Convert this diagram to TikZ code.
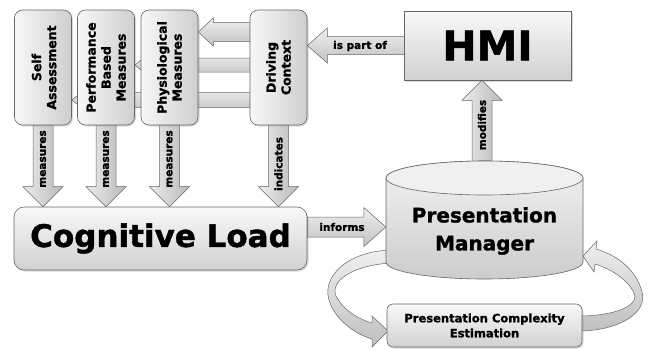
\documentclass[tikz,border=0pt]{standalone}
\usepackage{fontspec}
\setmainfont{DejaVu Sans}[BoldFeatures={FakeBold=1.3}]
\usetikzlibrary{calc,shadows}
\pgfdeclarelayer{bg}
\pgfsetlayers{bg,main}
\tikzset{
  shad/.style={drop shadow={shadow xshift=1.5pt,shadow yshift=-1.5pt,opacity=0.3}},
  vbox/.style={shad, draw=black!60, line width=0.6pt, rounded corners=8pt, left color=gray!6, right color=gray!38, minimum width=57pt, minimum height=115pt, inner sep=0pt},
  vlab/.style={rotate=90, align=center, font=\bfseries\fontsize{12.5}{15}\selectfont, inner sep=0pt},
  hbox/.style={shad, draw=black!60, line width=0.6pt, top color=gray!5, bottom color=gray!36, inner sep=0pt},
  alab/.style={font=\bfseries\fontsize{10.5}{12}\selectfont, inner sep=0pt},
  harr/.style={draw=black!60, line width=0.5pt, top color=gray!12, bottom color=gray!48},
  varr/.style={draw=black!60, line width=0.5pt, left color=gray!15, right color=gray!55},
  carr/.style={draw=black!60, line width=0.5pt, top color=gray!12, bottom color=gray!50},
}
% horizontal block arrow: start, tip, shaft half width, head half width, signed head length
\newcommand\harrowblk[6][]{\draw[harr,#1] ($(#2)+(0,-#4)$) -- ($(#3)+(#6,-#4)$) -- ($(#3)+(#6,-#5)$) -- (#3) -- ($(#3)+(#6,#5)$) -- ($(#3)+(#6,#4)$) -- ($(#2)+(0,#4)$) -- cycle;}
% vertical block arrow
\newcommand\varrowblk[6][]{\draw[varr,#1] ($(#2)+(-#4,0)$) -- ($(#3)+(-#4,#6)$) -- ($(#3)+(-#5,#6)$) -- (#3) -- ($(#3)+(#5,#6)$) -- ($(#3)+(#4,#6)$) -- ($(#2)+(#4,0)$) -- cycle;}
\begin{document}
\begin{tikzpicture}[x=1pt,y=-1pt]
\useasboundingbox (0,0) rectangle (650,349);

% top boxes
\node[vbox] (sa) at (43,67.5) {};
\node[vlab] (sat) at ($(sa)+(1,0)$) {Self\\Assessment};
\node[vbox] (pb) at (106,67.5) {};
\node[vlab] (pbt) at (pb) {Performance\\Based\\Measures};
\node[vbox] (ph) at (169.5,67.5) {};
\node[vlab] (pht) at (ph) {Physiological\\Measures};
\node[vbox] (dc) at (278.5,67.5) {};
\node[vlab] (dct) at (dc) {Driving\\Context};

% HMI
\node[hbox, minimum width=167pt, minimum height=69pt, font=\bfseries\fontsize{41}{41}\selectfont] (hmi) at (487.5,45.5) {HMI};

% Cognitive Load
\node[hbox, rounded corners=10pt, minimum width=293pt, minimum height=63pt, font=\bfseries\fontsize{31}{31}\selectfont] (cl) at (160.5,238.5) {Cognitive Load};

% Presentation Manager cylinder
\node[inner sep=0pt, minimum width=197pt, minimum height=118pt] (pm) at (484.5,220.5) {};
\draw[draw=black!60, line width=0.6pt, top color=gray!10, bottom color=gray!40]
  (386,178) -- (386,262) arc[start angle=180, end angle=0, x radius=98.5, y radius=17]
  -- (583,178) arc[start angle=0, end angle=-180, x radius=98.5, y radius=17] -- cycle;
\draw[draw=black!60, line width=0.6pt, fill=gray!12] (484.5,178) ellipse[x radius=98.5, y radius=17];
\node[align=center, inner sep=0pt, font=\bfseries\fontsize{20}{28}\selectfont] (pmt) at (484.5,231) {Presentation\\Manager};

% Presentation Complexity Estimation
\node[hbox, rounded corners=6pt, minimum width=195pt, minimum height=43pt, align=center, font=\bfseries\fontsize{11.5}{15}\selectfont] (pce) at (484.5,325.5) {Presentation Complexity\\Estimation};

\coordinate (mx) at (482,190);

\begin{pgfonlayer}{bg}
  % from Driving Context to measures
  \harrowblk{dc |- 0,100}{sa.east |- 0,100}{7.5}{12}{15}
  \harrowblk{dc |- 0,65}{pb.east |- 0,65}{7}{12}{15}
  \harrowblk{dc |- 0,32}{ph.east |- 0,32}{9.5}{14}{15}
  % is part of
  \harrowblk{hmi}{dc.east |- hmi}{9}{17.5}{20}
  % informs
  \harrowblk{cl.east |- 0,227}{pm.west |- 0,227}{10}{19.5}{-22}
  % down arrows
  \varrowblk{sa}{sa |- cl.north}{10}{20}{-20}
  \varrowblk{pb}{pb |- cl.north}{10}{20}{-20}
  \varrowblk{ph}{ph |- cl.north}{10}{20}{-20}
  \varrowblk{dc}{dc |- cl.north}{10}{20}{-20}
  % modifies
  \varrowblk{mx}{mx |- hmi.south}{10}{20}{20}
  % loop arrows
  \draw[carr] (390,250) .. controls (345,252) and (322,278) .. (329,300)
     .. controls (335,320) and (355,334) .. (372,339) -- (372,347) -- (388,331) -- (372,316) -- (372,323)
     .. controls (355,318) and (342,308) .. (336,296)
     .. controls (330,282) and (350,266) .. (390,263) -- cycle;
  \draw[carr] (578,331) .. controls (620,331) and (648,312) .. (642,292)
     .. controls (637,272) and (620,256) .. (596,249) -- (597,241) -- (583,256) -- (594,272) -- (595,264)
     .. controls (615,270) and (632,284) .. (635,296)
     .. controls (636,306) and (615,316) .. (578,316) -- cycle;
\end{pgfonlayer}

% arrow labels
\node[alab, rotate=90] (m1) at (sa |- 0,159) {measures};
\node[alab, rotate=90] (m2) at (pb |- 0,159) {measures};
\node[alab, rotate=90] (m3) at (ph |- 0,159) {measures};
\node[alab, rotate=90] (ind) at (dc |- 0,164) {indicates};
\node[alab, rotate=90] (mod) at (mx |- 0,125) {modifies};
\node[alab] (ipo) at (360,46) {is part of};
\node[alab] (inf) at (342,227) {informs};
\end{tikzpicture}
\end{document}
